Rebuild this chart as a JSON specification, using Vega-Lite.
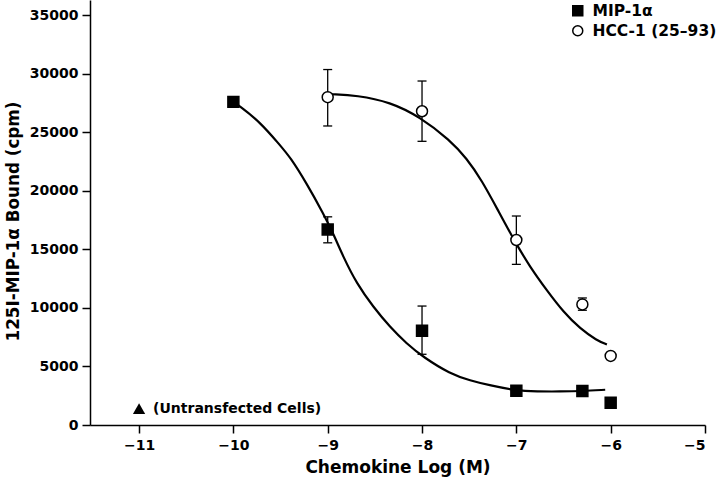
{
  "$schema": "https://vega.github.io/schema/vega-lite/v6.json",
  "width": 615,
  "height": 425,
  "autosize": {"type": "none"},
  "padding": {"left": 90, "top": 0, "right": 15, "bottom": 53},
  "background": "white",
  "config": {
    "view": {"stroke": null},
    "font": "DejaVu Sans",
    "axis": {
      "domainColor": "black", "domainWidth": 1.5, "tickColor": "black", "tickWidth": 1.5, "tickSize": 8,
      "labelColor": "black", "labelFont": "DejaVu Sans", "labelFontSize": 14, "labelFontWeight": "bold",
      "titleFont": "DejaVu Sans", "titleFontWeight": "bold", "titleColor": "black", "grid": false, "labelPadding": 4
    },
    "axisX": {"titleFontSize": 17, "titleY": 47, "titleBaseline": "alphabetic", "labelPadding": 5},
    "axisY": {"titleFontSize": 16.8, "titleX": -72, "titleY": 221, "titleAngle": -90, "titleBaseline": "alphabetic"}
  },
  "datasets": {
    "points": [
      {"series": "MIP-1α", "x": -10, "y": 27600},
      {"series": "MIP-1α", "x": -9, "y": 16700},
      {"series": "MIP-1α", "x": -8, "y": 8050},
      {"series": "MIP-1α", "x": -7, "y": 2920},
      {"series": "MIP-1α", "x": -6.3, "y": 2900},
      {"series": "MIP-1α", "x": -6, "y": 1900},
      {"series": "HCC-1 (25–93)", "x": -9, "y": 28000},
      {"series": "HCC-1 (25–93)", "x": -8, "y": 26800},
      {"series": "HCC-1 (25–93)", "x": -7, "y": 15800},
      {"series": "HCC-1 (25–93)", "x": -6.3, "y": 10300},
      {"series": "HCC-1 (25–93)", "x": -6, "y": 5900}
    ],
    "errors": [
      {"series": "MIP-1α", "x": -9, "lo": 15560, "hi": 17780},
      {"series": "MIP-1α", "x": -8, "lo": 6040, "hi": 10160},
      {"series": "HCC-1 (25–93)", "x": -9, "lo": 25540, "hi": 30360},
      {"series": "HCC-1 (25–93)", "x": -8, "lo": 24230, "hi": 29380},
      {"series": "HCC-1 (25–93)", "x": -7, "lo": 13720, "hi": 17850},
      {"series": "HCC-1 (25–93)", "x": -6.3, "lo": 9800, "hi": 10850}
    ],
    "curves": [
      {"curve": "MIP", "x": -10, "y": 27600},
      {"curve": "MIP", "x": -9.947, "y": 27310},
      {"curve": "MIP", "x": -9.717, "y": 25880},
      {"curve": "MIP", "x": -9.505, "y": 23890},
      {"curve": "MIP", "x": -9.399, "y": 22890},
      {"curve": "MIP", "x": -9.222, "y": 20620},
      {"curve": "MIP", "x": -9.046, "y": 18050},
      {"curve": "MIP", "x": -8.94, "y": 16340},
      {"curve": "MIP", "x": -8.834, "y": 14340},
      {"curve": "MIP", "x": -8.692, "y": 12070},
      {"curve": "MIP", "x": -8.516, "y": 10070},
      {"curve": "MIP", "x": -8.339, "y": 8360},
      {"curve": "MIP", "x": -8.162, "y": 6940},
      {"curve": "MIP", "x": -7.985, "y": 5790},
      {"curve": "MIP", "x": -7.702, "y": 4370},
      {"curve": "MIP", "x": -7.49, "y": 3800},
      {"curve": "MIP", "x": -7.278, "y": 3380},
      {"curve": "MIP", "x": -7.013, "y": 2950},
      {"curve": "MIP", "x": -6.78, "y": 2860},
      {"curve": "MIP", "x": -6.535, "y": 2860},
      {"curve": "MIP", "x": -6.306, "y": 2890},
      {"curve": "MIP", "x": -6.058, "y": 3010},
      {"curve": "HCC", "x": -8.96, "y": 28250},
      {"curve": "HCC", "x": -8.692, "y": 28160},
      {"curve": "HCC", "x": -8.338, "y": 27590},
      {"curve": "HCC", "x": -8.02, "y": 26310},
      {"curve": "HCC", "x": -7.702, "y": 24320},
      {"curve": "HCC", "x": -7.53, "y": 22800},
      {"curve": "HCC", "x": -7.366, "y": 20900},
      {"curve": "HCC", "x": -7.19, "y": 18270},
      {"curve": "HCC", "x": -7.013, "y": 15620},
      {"curve": "HCC", "x": -6.854, "y": 13490},
      {"curve": "HCC", "x": -6.677, "y": 11500},
      {"curve": "HCC", "x": -6.5, "y": 9640},
      {"curve": "HCC", "x": -6.323, "y": 8220},
      {"curve": "HCC", "x": -6.146, "y": 7220},
      {"curve": "HCC", "x": -6.04, "y": 6880}
    ],
    "untransfected": [
      {"x": -11, "y": 1400, "label": "(Untransfected Cells)"}
    ]
  },
  "layer": [
    {
      "data": {"name": "curves"},
      "mark": {"type": "line", "color": "black", "strokeWidth": 2.2, "interpolate": "basis"},
      "encoding": {
        "x": {"field": "x", "type": "quantitative", "scale": {"domain": [-11.52, -5], "nice": false, "zero": false}, "axis": {"values": [-11, -10, -9, -8, -7, -6, -5], "format": "d"}, "title": "Chemokine Log (M)"},
        "y": {"field": "y", "type": "quantitative", "scale": {"domain": [0, 36300], "nice": false, "zero": false}, "axis": {"values": [0, 5000, 10000, 15000, 20000, 25000, 30000, 35000], "format": "d"}, "title": "125I-MIP-1α Bound (cpm)"},
        "detail": {"field": "curve"}
      }
    },
    {
      "data": {"name": "errors"},
      "mark": {"type": "rule", "color": "black", "strokeWidth": 1.3},
      "encoding": {
        "x": {"field": "x", "type": "quantitative", "scale": {"domain": [-11.52, -5], "nice": false, "zero": false}, "axis": {"values": [-11, -10, -9, -8, -7, -6, -5], "format": "d"}, "title": "Chemokine Log (M)"},
        "y": {"field": "lo", "type": "quantitative", "scale": {"domain": [0, 36300], "nice": false, "zero": false}, "axis": {"values": [0, 5000, 10000, 15000, 20000, 25000, 30000, 35000], "format": "d"}, "title": "125I-MIP-1α Bound (cpm)"},
        "y2": {"field": "hi"}
      }
    },
    {
      "data": {"name": "errors"},
      "mark": {"type": "tick", "color": "black", "orient": "horizontal", "size": 9, "thickness": 1.3, "opacity": 1},
      "encoding": {
        "x": {"field": "x", "type": "quantitative", "scale": {"domain": [-11.52, -5], "nice": false, "zero": false}, "axis": {"values": [-11, -10, -9, -8, -7, -6, -5], "format": "d"}, "title": "Chemokine Log (M)"},
        "y": {"field": "lo", "type": "quantitative", "scale": {"domain": [0, 36300], "nice": false, "zero": false}, "axis": {"values": [0, 5000, 10000, 15000, 20000, 25000, 30000, 35000], "format": "d"}, "title": "125I-MIP-1α Bound (cpm)"}
      }
    },
    {
      "data": {"name": "errors"},
      "mark": {"type": "tick", "color": "black", "orient": "horizontal", "size": 9, "thickness": 1.3, "opacity": 1},
      "encoding": {
        "x": {"field": "x", "type": "quantitative", "scale": {"domain": [-11.52, -5], "nice": false, "zero": false}, "axis": {"values": [-11, -10, -9, -8, -7, -6, -5], "format": "d"}, "title": "Chemokine Log (M)"},
        "y": {"field": "hi", "type": "quantitative", "scale": {"domain": [0, 36300], "nice": false, "zero": false}, "axis": {"values": [0, 5000, 10000, 15000, 20000, 25000, 30000, 35000], "format": "d"}, "title": "125I-MIP-1α Bound (cpm)"}
      }
    },
    {
      "data": {"name": "points"},
      "mark": {"type": "point", "filled": true, "stroke": "black", "strokeWidth": 1.5, "opacity": 1, "size": 120},
      "encoding": {
        "x": {"field": "x", "type": "quantitative", "scale": {"domain": [-11.52, -5], "nice": false, "zero": false}, "axis": {"values": [-11, -10, -9, -8, -7, -6, -5], "format": "d"}, "title": "Chemokine Log (M)"},
        "y": {"field": "y", "type": "quantitative", "scale": {"domain": [0, 36300], "nice": false, "zero": false}, "axis": {"values": [0, 5000, 10000, 15000, 20000, 25000, 30000, 35000], "format": "d"}, "title": "125I-MIP-1α Bound (cpm)"},
        "shape": {"field": "series", "type": "nominal", "scale": {"domain": ["MIP-1α", "HCC-1 (25–93)"], "range": ["square", "circle"]},
          "legend": {"orient": "none", "legendX": 480, "legendY": 3, "title": null, "padding": 0, "rowPadding": 2, "symbolSize": 100, "labelFont": "DejaVu Sans", "labelFontSize": 15.5, "labelFontWeight": "bold", "labelColor": "black", "labelOffset": 7,
            "encode": {"symbols": {"update": {"stroke": {"value": "black"}, "strokeWidth": {"value": 1.3}}}}}},
        "fill": {"field": "series", "type": "nominal", "scale": {"domain": ["MIP-1α", "HCC-1 (25–93)"], "range": ["black", "white"]},
          "legend": {"orient": "none", "legendX": 480, "legendY": 3, "title": null, "padding": 0, "rowPadding": 2, "symbolSize": 100, "labelFont": "DejaVu Sans", "labelFontSize": 15.5, "labelFontWeight": "bold", "labelColor": "black", "labelOffset": 7,
            "encode": {"symbols": {"update": {"stroke": {"value": "black"}, "strokeWidth": {"value": 1.3}}}}}}
      }
    },
    {
      "data": {"name": "untransfected"},
      "mark": {"type": "point", "shape": "triangle-up", "filled": true, "color": "black", "opacity": 1, "size": 150},
      "encoding": {
        "x": {"field": "x", "type": "quantitative", "scale": {"domain": [-11.52, -5], "nice": false, "zero": false}, "axis": {"values": [-11, -10, -9, -8, -7, -6, -5], "format": "d"}, "title": "Chemokine Log (M)"},
        "y": {"field": "y", "type": "quantitative", "scale": {"domain": [0, 36300], "nice": false, "zero": false}, "axis": {"values": [0, 5000, 10000, 15000, 20000, 25000, 30000, 35000], "format": "d"}, "title": "125I-MIP-1α Bound (cpm)"}
      }
    },
    {
      "data": {"name": "untransfected"},
      "mark": {"type": "text", "align": "left", "baseline": "middle", "dx": 14, "font": "DejaVu Sans", "fontSize": 14, "fontWeight": "bold", "color": "black"},
      "encoding": {
        "x": {"field": "x", "type": "quantitative", "scale": {"domain": [-11.52, -5], "nice": false, "zero": false}, "axis": {"values": [-11, -10, -9, -8, -7, -6, -5], "format": "d"}, "title": "Chemokine Log (M)"},
        "y": {"field": "y", "type": "quantitative", "scale": {"domain": [0, 36300], "nice": false, "zero": false}, "axis": {"values": [0, 5000, 10000, 15000, 20000, 25000, 30000, 35000], "format": "d"}, "title": "125I-MIP-1α Bound (cpm)"},
        "text": {"field": "label"}
      }
    }
  ]
}
